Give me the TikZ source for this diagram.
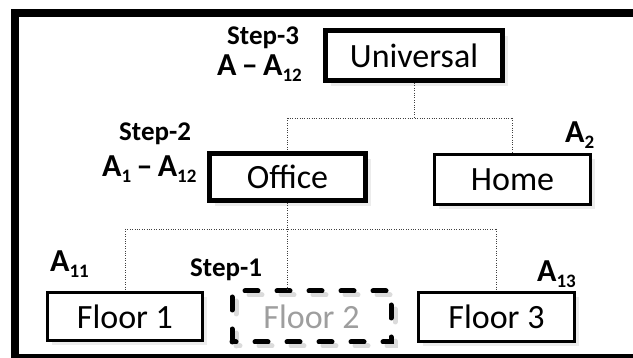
\documentclass[tikz,border=0pt]{standalone}
\usepackage{fontspec}
\setmainfont{Carlito}
\usetikzlibrary{shadows,backgrounds}
% lowered, smaller index for the area labels
\newcommand\lowsub[1]{\raisebox{-5.5pt}{\fontsize{19}{19}\selectfont #1}}
\begin{document}
\begin{tikzpicture}[x=1pt,y=-1pt,
  box/.style={draw, fill=white, inner sep=0pt, font=\fontsize{34}{40}\selectfont},
  thickbox/.style={box, line width=5pt,
    drop shadow={shadow xshift=5.5pt, shadow yshift=-5.5pt, fill=black!15}},
  thinbox/.style={box, line width=2.6pt,
    drop shadow={shadow xshift=4.5pt, shadow yshift=-4.5pt, fill=black!15}},
  dashbox/.style={inner sep=0pt, font=\fontsize{34}{40}\selectfont, text=black!38,
    line width=5pt, line cap=round, dash pattern=on 13pt off 19pt},
  conn/.style={line width=0.8pt, black!75, dash pattern=on 0.8pt off 1.6pt},
  arealbl/.style={font=\bfseries\fontsize{32}{36}\selectfont, inner sep=0pt, anchor=base west},
  steplbl/.style={font=\bfseries\fontsize{27}{31}\selectfont, inner sep=0pt, anchor=base west}
]
\useasboundingbox (0,0) rectangle (633,358);

% outer frame (right and bottom sides run past the page edge)
\draw[line width=8pt] (15,13) rectangle (637,358);

% hierarchy boxes
\node[thickbox, minimum width=177pt, minimum height=50pt] (univ)   at (414,55.5)   {Universal};
\node[thickbox, minimum width=156pt, minimum height=47pt] (office) at (287.5,177)  {Office};
\node[thinbox,  minimum width=156pt, minimum height=50pt] (home)   at (512.5,179.5){Home};
\node[thinbox,  minimum width=155.5pt, minimum height=48.5pt] (f1) at (125,316.5)  {Floor 1};
\node[dashbox,  minimum width=154pt, minimum height=46pt] (f2)     at (311.5,316.5){Floor 2};
\node[thinbox,  minimum width=156.5pt, minimum height=49.5pt] (f3) at (496.5,317)  {Floor 3};

% dashed outline of Floor 2 with its faint shadow
\begin{scope}[on background layer]
  \draw[dashbox, black!14] ([shift={(4,4)}]f2.south west) rectangle ([shift={(4,4)}]f2.north east);
\end{scope}
\draw[dashbox] (f2.south west) rectangle (f2.north east);

% bus lines
\coordinate (bus1) at (0,118);
\coordinate (bus2) at (0,229);
\draw[conn] (univ.south) -- (univ.south |- bus1);
\draw[conn] (office.north |- bus1) -- (home.north |- bus1);
\draw[conn] (office.north |- bus1) -- (office.north);
\draw[conn] (home.north |- bus1) -- (home.north);
\draw[conn] (office.south) -- (office.south |- bus2);
\draw[conn] (f1.north |- bus2) -- (f3.north |- bus2);
\draw[conn] (f1.north |- bus2) -- (f1.north);
\draw[conn] (f3.north |- bus2) -- (f3.north);
\draw[conn] (office.south |- bus2) -- (office.south |- f2.north);

% step and area labels
\node[steplbl] (s3)  at (227,45)  {Step-3};
\node[arealbl] (a3)  at (217,76)  {A\,–\,A\lowsub{12}};
\node[steplbl] (s2)  at (119,141) {Step-2};
\node[arealbl] (a12) at (102,177) {A\lowsub{1}\,–\,A\lowsub{12}};
\node[arealbl] (a2)  at (565,143) {A\lowsub{2}};
\node[arealbl] (a11) at (50,272)  {A\lowsub{11}};
\node[steplbl] (s1)  at (190,277) {Step-1};
\node[arealbl] (a13) at (537,282) {A\lowsub{13}};
\end{tikzpicture}
\end{document}
